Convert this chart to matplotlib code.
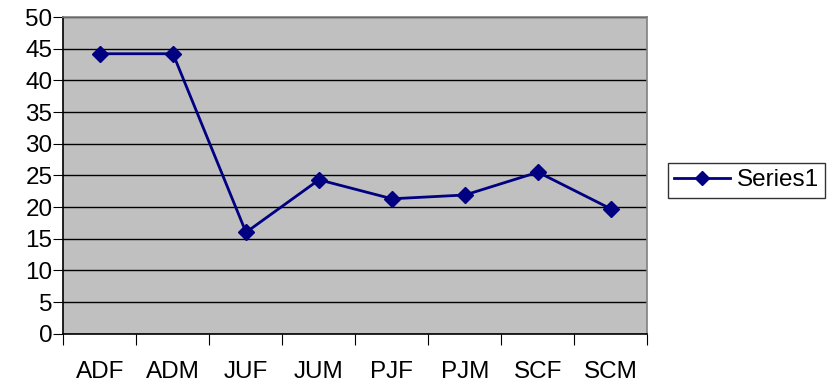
import matplotlib
matplotlib.use("Agg")
import matplotlib.pyplot as plt
import numpy as np

categories = ["ADF", "ADM", "JUF", "JUM", "PJF", "PJM", "SCF", "SCM"]
series1 = [44.2, 44.2, 16.0, 24.3, 21.3, 21.9, 25.5, 19.7]

plt.rcParams['font.family'] = ['Liberation Sans', 'DejaVu Sans']

fig = plt.figure(figsize=(8.37, 3.9), dpi=100)
ax = fig.add_axes([63.5 / 837, (390 - 333.7) / 390, 584 / 837, 316.7 / 390])
ax.set_facecolor("#C0C0C0")

x = np.arange(len(categories))
ax.plot(x, series1, color="#000080", lw=2, marker="D", ms=8, label="Series1")

ax.set_xlim(-0.5, len(categories) - 0.5)
ax.set_ylim(0, 50)
ax.set_yticks(np.arange(0, 51, 5))
ax.yaxis.grid(True, color="black", lw=1)
ax.set_axisbelow(True)

# category boundaries get the tick marks, centres carry the labels
ax.set_xticks(np.arange(-0.5, len(categories), 1.0))
ax.set_xticklabels([])
ax.set_xticks(x, minor=True)
ax.set_xticklabels(categories, minor=True, fontsize=17.5)
ax.tick_params(axis="x", which="major", length=8, direction="out", color="black")
ax.tick_params(axis="x", which="minor", length=0, pad=20)
ax.tick_params(axis="y", length=7, direction="out", labelsize=17.5, pad=1)

ax.spines["left"].set_color("black")
ax.spines["bottom"].set_color("black")
ax.spines["top"].set_color("#808080")
ax.spines["right"].set_color("#808080")
for s in ax.spines.values():
    s.set_linewidth(1.2)

leg = ax.legend(loc="center left", bbox_to_anchor=(1.035, 0.484), fontsize=17.5,
                frameon=True, fancybox=False, handlelength=2.3, markerscale=0.85,
                borderpad=0.25, handletextpad=0.3, borderaxespad=0)
leg.get_frame().set_edgecolor("black")
leg.get_frame().set_linewidth(1)
leg.get_frame().set_facecolor("white")

fig.savefig("out.png", dpi=100)
